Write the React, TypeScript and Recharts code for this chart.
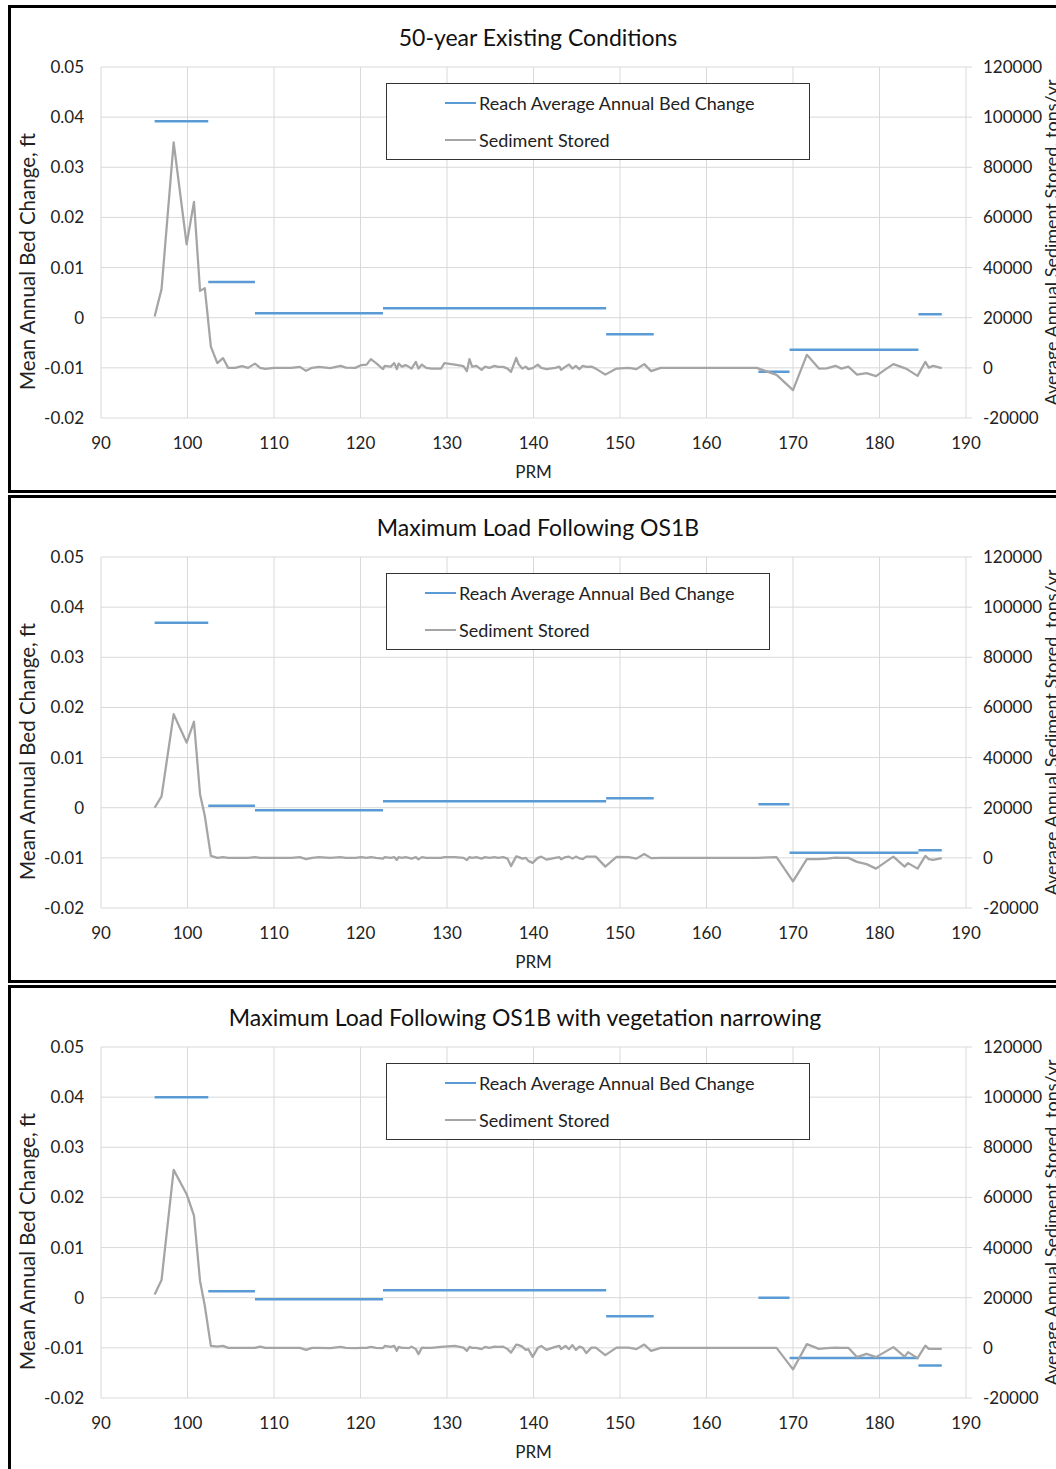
import React from 'react';
import { ComposedChart, Line, XAxis, YAxis, CartesianGrid, Legend } from 'recharts';

const FONT = 'Lato, "Open Sans", sans-serif';
const BLUE = '#5B9BD5';
const GREY = '#A5A5A5';
const GRID = '#D9D9D9';
const INK = '#222222';

const PRM_TICKS = [90, 100, 110, 120, 130, 140, 150, 160, 170, 180, 190];
const BED_TICKS = [-0.02, -0.01, 0, 0.01, 0.02, 0.03, 0.04, 0.05];
const STORED_TICKS = [-20000, 0, 20000, 40000, 60000, 80000, 100000, 120000];

// reach limits (PRM) for the reach-average bed change
const REACH_START = [96.2, 102.4, 107.8, 122.6, 148.4, 166.0, 169.6, 184.5];
const REACH_END = [102.4, 107.8, 122.6, 148.4, 153.9, 169.6, 184.5, 187.2];

const BED_EXISTING = [0.0392, 0.0071, 0.0009, 0.0019, -0.0033, -0.0108, -0.0064, 0.0007];
const BED_OS1B = [0.0369, 0.0004, -0.0005, 0.0013, 0.0019, 0.0007, -0.009, -0.0085];
const BED_OS1B_VEG = [0.04, 0.0013, -0.0003, 0.0015, -0.0037, 0.0, -0.012, -0.0135];

// cross-section stations for sediment stored
const STATIONS = [
  96.2, 97.0, 98.4, 99.9, 100.75, 101.45, 102.0, 102.7, 103.45, 104.1,
  104.7, 105.5, 106.3, 107.0, 107.8, 108.4, 109.0, 110.0, 111.0, 112.0,
  113.0, 113.7, 114.4, 115.2, 116.5, 117.7, 118.3, 119.4, 120.1, 120.7,
  121.2, 121.8, 122.6, 122.8, 123.5, 123.9, 124.2, 124.4, 124.8, 125.2,
  125.6, 125.9, 126.4, 126.7, 127.1, 127.6, 128.2, 129.3, 129.7, 130.9,
  131.9, 132.3, 132.6, 132.9, 133.4, 134.0, 134.4, 134.9, 135.5, 135.9,
  136.5, 137.0, 137.4, 138.0, 138.3, 138.7, 139.1, 139.4, 139.9, 140.5,
  140.9, 141.5, 142.5, 143.0, 143.2, 143.7, 144.1, 144.5, 144.9, 145.3,
  145.7, 146.1, 146.7, 147.2, 148.3, 149.6, 151.0, 151.9, 152.8, 153.6,
  154.7, 158.0, 162.0, 165.8, 168.1, 170.0, 171.6, 173.0, 173.9, 174.9,
  175.6, 176.4, 177.4, 178.5, 179.6, 180.6, 181.6, 182.9, 183.3, 184.4,
  185.3, 185.7, 186.2, 187.2,
];

const STORED_EXISTING = [
  20500, 31400, 89900, 49300, 66200, 30700, 31800, 8500, 1900, 3900,
  0, 0, 700, 0, 1700, 0, -400, 0, 0, 0,
  400, -1200, 0, 400, -100, 800, 100, 0, 1100, 1300,
  3500, 1900, -500, 800, 500, 1900, -500, 1700, 500, 1100,
  400, -300, 2400, -300, 1300, 0, -300, -300, 1900, 1300,
  700, -1300, 3500, 500, 800, -800, 500, 0, 800, 400,
  400, -300, -1600, 4000, 1300, -300, 500, -500, -100, 1300,
  0, -500, 0, 500, -800, 500, 1300, -300, 800, -500,
  800, 400, 500, -300, -2700, -300, 0, -500, 1500, -1300,
  0, 0, 0, 0, -2800, -8900, 5200, -300, -200, 800,
  -300, 500, -2700, -2100, -3300, -800, 1500, -100, -800, -3200,
  2400, 100, 800, -100,
];

const STORED_OS1B = [
  20000, 24500, 57300, 46000, 54300, 25400, 16800, 800, 0, 300,
  0, 0, 0, 0, 300, 0, 0, 0, 0, 0,
  300, -500, 0, 300, 0, 300, 0, 0, 300, 0,
  300, 0, -300, 300, 0, 300, -800, 300, 0, 300,
  0, -300, 300, -600, 300, 0, 0, 0, 300, 300,
  0, -900, 300, 0, 300, -300, 300, 0, 300, 0,
  300, -300, -3300, 600, 300, -300, 0, -1200, -2000, 0,
  500, -700, 0, 300, -600, 300, 500, -300, 500, -200,
  -500, 500, 500, 500, -3500, 400, 300, -300, 1500, -100,
  0, 0, 0, 0, 300, -9400, -500, -500, -300, 100,
  0, 0, -1600, -2500, -4300, -1900, 500, -3500, -2100, -4300,
  800, -500, -800, -100,
];

const STORED_OS1B_VEG = [
  21300, 27100, 71000, 61300, 52700, 26700, 16800, 800, 500, 800,
  0, 0, 0, 0, 0, 500, 0, 0, 0, 0,
  0, -800, 0, 0, -100, 400, 0, -100, 0, 0,
  400, 0, -100, 800, 400, 800, -1200, 400, 0, 0,
  -100, 500, -500, -2500, 100, 0, 0, 400, 500, 800,
  100, -1200, 400, 0, 0, -500, 400, 0, 500, 400,
  500, -500, -1900, 1300, 1100, 500, -800, -500, -3600, 0,
  800, -800, 400, 800, -500, 800, -500, 1100, -800, 500,
  0, -2100, 100, 100, -2900, 100, 100, -500, 1300, -1200,
  0, 0, 0, 0, 0, -8600, 1500, -400, -100, 100,
  0, 0, -3700, -2400, -3700, -1700, 300, -3500, -1700, -4100,
  900, -400, -400, -400,
];

const SERIES_NAMES = ['Reach Average Annual Bed Change', 'Sediment Stored'];

// each reach is a flat segment; a null row breaks the line between reaches
const reachRows = (values: number[]) =>
  values.flatMap((v, i) => [
    { prm: REACH_START[i], bed: v },
    { prm: REACH_END[i], bed: v },
    { prm: REACH_END[i], bed: null },
  ]);

const storedRows = (values: number[]) => STATIONS.map((prm, i) => ({ prm, stored: values[i] }));

const SideTitle = ({ px, py, text, size }: any) => (
  <text
    x={px}
    y={py}
    transform={`rotate(-90 ${px} ${py})`}
    textAnchor="middle"
    fill={INK}
    fontSize={size}
    fontFamily={FONT}
  >
    {text}
  </text>
);

const LegendBox = ({ width, pad }: { width: number; pad: number }) => (
  <div
    style={{
      width,
      height: 77,
      boxSizing: 'border-box',
      border: '1px solid #333',
      background: '#fff',
      paddingLeft: pad,
      fontFamily: FONT,
      fontSize: 18,
      color: INK,
    }}
  >
    {SERIES_NAMES.map((name, i) => (
      <div key={name} style={{ height: 37.5, display: 'flex', alignItems: 'center' }}>
        <span
          style={{
            display: 'inline-block',
            width: 31,
            height: i === 0 ? 2.5 : 2.25,
            background: i === 0 ? BLUE : GREY,
            marginRight: 3,
          }}
        />
        <span style={{ whiteSpace: 'nowrap' }}>{name}</span>
      </div>
    ))}
  </div>
);

const tickStyle = { fill: INK, fontSize: 17, fontFamily: FONT };

interface PanelProps {
  title: string;
  titleX: number;
  top: number;
  bed: number[];
  stored: number[];
  legendWidth: number;
  legendPad: number;
}

const Panel = ({ title, titleX, top, bed, stored, legendWidth, legendPad }: PanelProps) => (
  <>
    <div
      style={{
        position: 'absolute',
        left: titleX,
        top: top + 32,
        transform: 'translate(-50%, -50%)',
        whiteSpace: 'nowrap',
        fontFamily: FONT,
        fontSize: 23,
        color: '#111',
      }}
    >
      {title}
    </div>
    <div style={{ position: 'absolute', left: 0, top }}>
      <ComposedChart width={1100} height={486} margin={{ top: 62, right: 54, bottom: 0, left: 0 }}>
        <CartesianGrid yAxisId="left" stroke={GRID} strokeWidth={1} />
        <XAxis
          dataKey="prm"
          type="number"
          domain={[90, 190]}
          ticks={PRM_TICKS}
          allowDataOverflow
          height={73}
          axisLine={false}
          tickLine={false}
          tickSize={6}
          tickMargin={13}
          tick={tickStyle}
          label={{ value: 'PRM', position: 'insideBottom', offset: 13, fill: INK, fontSize: 17, fontFamily: FONT }}
        />
        <YAxis
          yAxisId="left"
          width={101}
          domain={[-0.02, 0.05]}
          ticks={BED_TICKS}
          allowDataOverflow
          axisLine={false}
          tickLine={false}
          tickSize={6}
          tickMargin={11}
          tick={tickStyle}
          tickFormatter={(v: number) => (v === 0 ? '0' : v.toFixed(2))}
          label={<SideTitle px={35} py={256.5} size={20.5} text="Mean Annual Bed Change, ft" />}
        />
        <YAxis
          yAxisId="right"
          orientation="right"
          width={80}
          domain={[-20000, 120000]}
          ticks={STORED_TICKS}
          allowDataOverflow
          axisLine={false}
          tickLine={{ stroke: GRID }}
          tickSize={6}
          tickMargin={11}
          tick={tickStyle}
          tickFormatter={(v: number) => String(v)}
          label={<SideTitle px={1058} py={237.5} size={18} text="Average Annual Sediment Stored, tons/yr" />}
        />
        <Legend
          layout="vertical"
          align="center"
          verticalAlign="middle"
          wrapperStyle={{ left: 386, top: 78, width: legendWidth, height: 77 }}
          content={() => <LegendBox width={legendWidth} pad={legendPad} />}
        />
        <Line
          yAxisId="left"
          data={reachRows(bed)}
          dataKey="bed"
          name={SERIES_NAMES[0]}
          stroke={BLUE}
          strokeWidth={2.5}
          dot={false}
          activeDot={false}
          connectNulls={false}
          isAnimationActive={false}
        />
        <Line
          yAxisId="right"
          data={storedRows(stored)}
          dataKey="stored"
          name={SERIES_NAMES[1]}
          stroke={GREY}
          strokeWidth={2.25}
          strokeLinejoin="round"
          dot={false}
          activeDot={false}
          isAnimationActive={false}
        />
      </ComposedChart>
    </div>
  </>
);

const frame = (top: number, height: number): React.CSSProperties => ({
  position: 'absolute',
  left: 8,
  top,
  width: 1070,
  height,
  boxSizing: 'border-box',
  border: '3px solid #000',
});

export default function App() {
  return (
    <div
      style={{
        position: 'absolute',
        left: 0,
        top: 0,
        width: 1056,
        height: 1469,
        overflow: 'hidden',
        background: '#fff',
      }}
    >
      <div style={frame(5, 488)} />
      <div style={frame(495, 488)} />
      <div style={frame(985, 500)} />
      <Panel
        title="50-year Existing Conditions"
        titleX={538}
        top={5}
        bed={BED_EXISTING}
        stored={STORED_EXISTING}
        legendWidth={424}
        legendPad={58}
      />
      <Panel
        title="Maximum Load Following OS1B"
        titleX={538}
        top={495}
        bed={BED_OS1B}
        stored={STORED_OS1B}
        legendWidth={384}
        legendPad={38}
      />
      <Panel
        title="Maximum Load Following OS1B with vegetation narrowing"
        titleX={525}
        top={985}
        bed={BED_OS1B_VEG}
        stored={STORED_OS1B_VEG}
        legendWidth={424}
        legendPad={58}
      />
    </div>
  );
}
